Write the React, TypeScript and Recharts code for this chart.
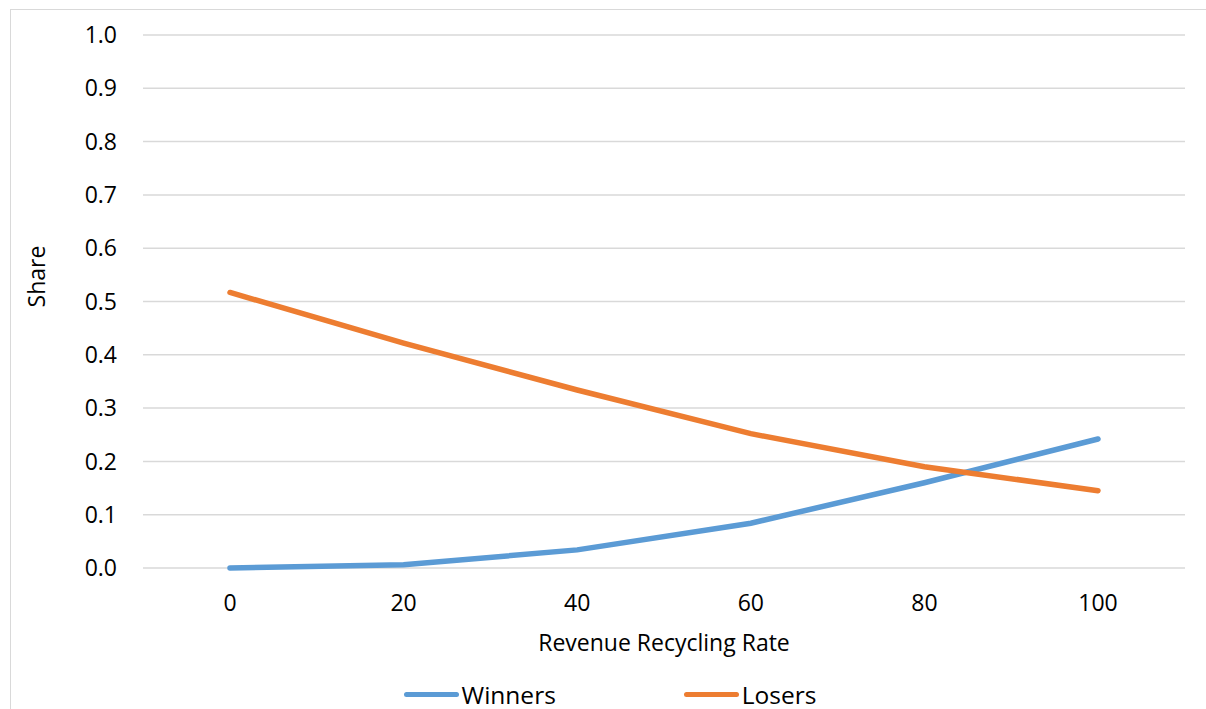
import React from 'react';
import { LineChart, Line, XAxis, YAxis, CartesianGrid, Legend } from 'recharts';

const categories = ['0', '20', '40', '60', '80', '100'];
const winners = [0.0, 0.006, 0.034, 0.084, 0.16, 0.242];
const losers = [0.517, 0.422, 0.334, 0.252, 0.19, 0.145];
const yTicks = [0, 0.1, 0.2, 0.3, 0.4, 0.5, 0.6, 0.7, 0.8, 0.9, 1.0];
const seriesNames = ['Winners', 'Losers'];

const data = categories.map((c, i) => ({ rate: c, Winners: winners[i], Losers: losers[i] }));

const FONT = '"Open Sans", sans-serif';
const FS = 23;
const BLUE = '#5B9BD5';
const ORANGE = '#ED7D31';

const renderLegend = (props: any) => {
  const payload = [...(props.payload || [])].sort(
    (a: any, b: any) => seriesNames.indexOf(a.value) - seriesNames.indexOf(b.value)
  );
  return (
    <div style={{ display: 'flex', justifyContent: 'center', alignItems: 'center', gap: 128, height: 30, paddingLeft: 24, boxSizing: 'border-box', fontFamily: FONT, fontSize: 24.5, color: '#000' }}>
      {payload.map((p: any) => (
        <div key={p.value} style={{ display: 'flex', alignItems: 'center' }}>
          <div style={{ width: 55, height: 5, borderRadius: 3, background: p.color, marginRight: 3 }} />
          <span>{p.value}</span>
        </div>
      ))}
    </div>
  );
};

const XLabel = (props: any) => {
  const vb = props.viewBox || {};
  return (
    <text x={vb.x + vb.width / 2} y={vb.y + 75} dy="0.355em" textAnchor="middle" fontFamily={FONT} fontSize={FS} fill="#000">
      Revenue Recycling Rate
    </text>
  );
};

const YLabel = (props: any) => {
  const vb = props.viewBox || {};
  const x = vb.x + 25;
  const y = vb.y + vb.height / 2 - 25;
  return (
    <text x={x} y={y} transform={`rotate(-90 ${x} ${y})`} dominantBaseline="central" textAnchor="middle" fontFamily={FONT} fontSize={FS} fill="#000">
      Share
    </text>
  );
};

export default function App() {
  return (
    <div style={{ position: 'absolute', left: 10, top: 9, width: 1196, height: 700, borderTop: '1px solid #d9d9d9', borderLeft: '1px solid #d9d9d9', background: '#fff', overflow: 'hidden' }}>
      <LineChart width={1195} height={699} data={data} margin={{ top: 25, right: 21, left: 0, bottom: 0 }}>
        <CartesianGrid horizontal vertical={false} stroke="#d9d9d9" strokeWidth={1.5} />
        <XAxis
          dataKey="rate"
          axisLine={false}
          tickLine={false}
          tickSize={0}
          tickMargin={27}
          height={111}
          padding={{ left: 87, right: 87 }}
          tick={{ fontFamily: FONT, fontSize: FS, fill: '#000' }}
          label={<XLabel />}
        />
        <YAxis
          domain={[0, 1]}
          ticks={yTicks}
          width={132}
          axisLine={false}
          tickLine={false}
          tickSize={0}
          tickMargin={26}
          interval={0}
          tickFormatter={(v: number) => v.toFixed(1)}
          tick={{ fontFamily: FONT, fontSize: FS, fill: '#000' }}
          label={<YLabel />}
        />
        <Legend verticalAlign="bottom" height={30} content={renderLegend} />
        <Line type="linear" dataKey="Winners" stroke={BLUE} strokeWidth={5.5} dot={false} activeDot={false} isAnimationActive={false} strokeLinecap="round" />
        <Line type="linear" dataKey="Losers" stroke={ORANGE} strokeWidth={5.5} dot={false} activeDot={false} isAnimationActive={false} strokeLinecap="round" />
      </LineChart>
    </div>
  );
}
